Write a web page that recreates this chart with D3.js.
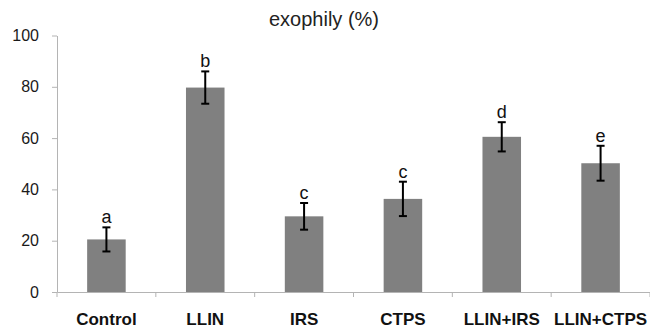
<!DOCTYPE html>
<html>
<head>
<meta charset="utf-8">
<script src="https://cdn.jsdelivr.net/npm/d3@7"></script>
<style>
  body { margin: 0; background: #fff; }
  svg { display: block; font-family: "Liberation Sans", Arial, sans-serif; }
  .axis .domain, .axis line { stroke: #b4b4b4; }
</style>
</head>
<body>
<div id="chart"></div>
<script>
// data
const categories = ["Control", "LLIN", "IRS", "CTPS", "LLIN+IRS", "LLIN+CTPS"];
const means = [20.5, 79.7, 29.5, 36.3, 60.5, 50.2];
const errors = [4.7, 6.3, 5.2, 6.7, 5.7, 6.8];
const letters = ["a", "b", "c", "c", "d", "e"];
const yTicks = [0, 20, 40, 60, 80, 100];

const svgWidth = 650;
const svgHeight = 330;
const margin = {top: 35.5, right: 0, bottom: 38, left: 57};

const svg = d3.select("#chart")
  .append("svg")
  .attr("width", svgWidth)
  .attr("height", svgHeight);

const x = d3.scaleBand()
  .domain(categories)
  .range([margin.left, svgWidth - margin.right])
  .paddingInner(0.61)
  .paddingOuter(0.305);

const y = d3.scaleLinear()
  .domain([0, 100])
  .range([svgHeight - margin.bottom, margin.top]);

const baseY = y(0);

// y axis
const yAxis = svg.append("g")
  .attr("class", "axis")
  .attr("transform", `translate(${margin.left},0)`)
  .call(d3.axisLeft(y).tickValues(yTicks).tickSize(5).tickSizeOuter(0).tickPadding(13));
yAxis.selectAll("text")
  .attr("fill", "#1a1a1a")
  .attr("font-size", "16px")
  .attr("font-family", "'Liberation Sans', Arial, sans-serif");

// x axis: labels centred in bands, ticks on the band boundaries
const xAxis = svg.append("g")
  .attr("class", "axis")
  .attr("transform", `translate(0,${baseY})`)
  .call(d3.axisBottom(x).tickSize(0).tickPadding(21).tickSizeOuter(0));
xAxis.selectAll("text")
  .attr("fill", "#111")
  .attr("font-size", "17px")
  .attr("font-weight", "bold")
  .attr("font-family", "'Liberation Sans', Arial, sans-serif");

const step = x.step();
const bounds = categories.map(c => x(c) - step * x.paddingOuter());
bounds.push(svgWidth - margin.right);
xAxis.selectAll(".bound")
  .data(bounds)
  .enter()
  .append("line")
  .attr("class", "bound")
  .attr("x1", d => d)
  .attr("x2", d => d)
  .attr("y1", 0)
  .attr("y2", 5);

const rows = categories.map((c, i) => ({cat: c, mean: means[i], err: errors[i], letter: letters[i]}));

// bars
svg.selectAll("rect.bar")
  .data(rows)
  .enter()
  .append("rect")
  .attr("class", "bar")
  .attr("x", d => x(d.cat))
  .attr("y", d => y(d.mean))
  .attr("width", x.bandwidth())
  .attr("height", d => baseY - y(d.mean))
  .attr("fill", "#808080");

// error bars
const cap = 4;
const err = svg.selectAll("g.err")
  .data(rows)
  .enter()
  .append("g")
  .attr("class", "err")
  .attr("stroke", "#000")
  .attr("stroke-width", 2);

err.append("line")
  .attr("x1", d => x(d.cat) + x.bandwidth() / 2)
  .attr("x2", d => x(d.cat) + x.bandwidth() / 2)
  .attr("y1", d => y(d.mean + d.err))
  .attr("y2", d => y(d.mean - d.err));

err.append("line")
  .attr("x1", d => x(d.cat) + x.bandwidth() / 2 - cap)
  .attr("x2", d => x(d.cat) + x.bandwidth() / 2 + cap)
  .attr("y1", d => y(d.mean + d.err))
  .attr("y2", d => y(d.mean + d.err));

err.append("line")
  .attr("x1", d => x(d.cat) + x.bandwidth() / 2 - cap)
  .attr("x2", d => x(d.cat) + x.bandwidth() / 2 + cap)
  .attr("y1", d => y(d.mean - d.err))
  .attr("y2", d => y(d.mean - d.err));

// significance letters
svg.selectAll("text.letter")
  .data(rows)
  .enter()
  .append("text")
  .attr("class", "letter")
  .attr("x", d => x(d.cat) + x.bandwidth() / 2)
  .attr("y", d => y(d.mean + d.err) - 4)
  .attr("text-anchor", "middle")
  .attr("font-size", "18px")
  .attr("fill", "#111")
  .text(d => d.letter);

// title
svg.append("text")
  .attr("x", 324)
  .attr("y", 26)
  .attr("text-anchor", "middle")
  .attr("font-size", "20px")
  .attr("fill", "#222")
  .text("exophily (%)");
</script>
</body>
</html>
